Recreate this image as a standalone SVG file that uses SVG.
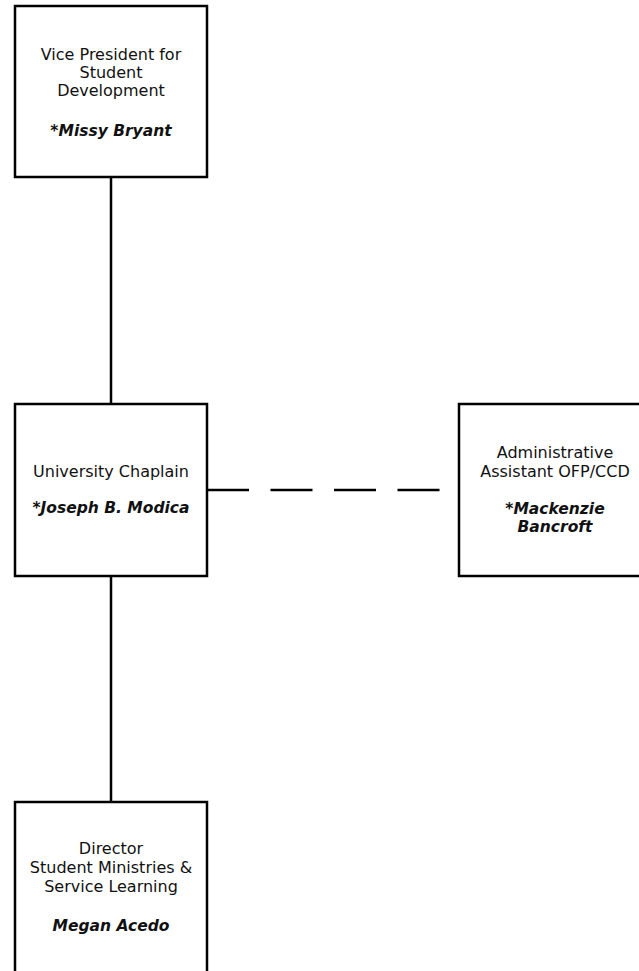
<svg xmlns="http://www.w3.org/2000/svg" width="639" height="971" viewBox="0 0 639 971">
<style>
.box{fill:#fff;stroke:#000;stroke-width:2.5}
.line{stroke:#000;stroke-width:2.5;fill:none}
.dash{stroke-dasharray:42 21.5}
text{font-family:"DejaVu Sans","Liberation Sans",sans-serif;font-size:16px;fill:#111;text-anchor:middle}
.nm{font-weight:bold;font-style:italic;font-size:15.5px}
</style>
<rect width="639" height="971" fill="#fff"/>
<g id="connectors">
<line class="line" x1="111" y1="177" x2="111" y2="404"/>
<line class="line" x1="111" y1="576" x2="111" y2="802"/>
<line class="line dash" x1="207" y1="490" x2="459" y2="490"/>
</g>
<g id="vp">
<rect class="box" x="15" y="6" width="192" height="171"/>
<text x="111" y="59.5">Vice President for</text>
<text x="111" y="77.7">Student</text>
<text x="111" y="96">Development</text>
<text class="nm" x="111" y="136">*Missy Bryant</text>
</g>
<g id="chaplain">
<rect class="box" x="15" y="404" width="192" height="172"/>
<text x="111" y="476.5">University Chaplain</text>
<text class="nm" x="111" y="513">*Joseph B. Modica</text>
</g>
<g id="admin">
<rect class="box" x="459" y="404" width="192" height="172"/>
<text x="555" y="458">Administrative</text>
<text x="555" y="476.5">Assistant OFP/CCD</text>
<text class="nm" x="555" y="513.5">*Mackenzie</text>
<text class="nm" x="555" y="531.5">Bancroft</text>
</g>
<g id="director">
<rect class="box" x="15" y="802" width="192" height="180"/>
<text x="111" y="854">Director</text>
<text x="111" y="873">Student Ministries &amp;</text>
<text x="111" y="892">Service Learning</text>
<text class="nm" x="111" y="930.5">Megan Acedo</text>
</g>
</svg>
